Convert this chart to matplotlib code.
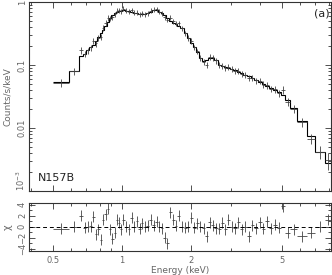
import numpy as np
import matplotlib
matplotlib.use("Agg")
import matplotlib.pyplot as plt
from matplotlib.ticker import FixedLocator, FixedFormatter, NullFormatter, LogLocator

# ---- data ----
edges = [0.50, 0.59, 0.65, 0.68, 0.70, 0.72, 0.74, 0.76, 0.78, 0.80,
         0.82, 0.84, 0.86, 0.88, 0.90, 0.92, 0.94, 0.96, 0.98, 1.00,
         1.03, 1.06, 1.09, 1.12, 1.15, 1.18, 1.21, 1.24, 1.28, 1.32,
         1.36, 1.40, 1.44, 1.48, 1.52, 1.56, 1.60, 1.65, 1.70, 1.75,
         1.80, 1.86, 1.92, 1.98, 2.04, 2.10, 2.17, 2.24, 2.31, 2.38,
         2.46, 2.54, 2.62, 2.70, 2.79, 2.88, 2.97, 3.07, 3.17, 3.28,
         3.40, 3.52, 3.65, 3.79, 3.93, 4.08, 4.24, 4.41, 4.59, 4.78,
         4.98, 5.18, 5.45, 5.85, 6.45, 6.95, 7.70, 8.20]

model = [0.054, 0.080, 0.14, 0.15, 0.17, 0.19, 0.21, 0.24, 0.28, 0.32,
         0.36, 0.42, 0.48, 0.55, 0.62, 0.66, 0.70, 0.72, 0.73, 0.74,
         0.73, 0.71, 0.70, 0.68, 0.66, 0.65, 0.64, 0.64, 0.66, 0.70,
         0.74, 0.74, 0.70, 0.66, 0.62, 0.56, 0.50, 0.47, 0.45, 0.42,
         0.38, 0.32, 0.27, 0.22, 0.19, 0.16, 0.13, 0.115, 0.12, 0.13,
         0.13, 0.12, 0.10, 0.095, 0.093, 0.090, 0.086, 0.082, 0.078, 0.074,
         0.070, 0.066, 0.062, 0.058, 0.054, 0.050, 0.046, 0.043, 0.040, 0.037,
         0.033, 0.028, 0.021, 0.013, 0.0075, 0.0042, 0.0028]

counts = [0.052, 0.080, 0.17, 0.15, 0.17, 0.19, 0.24, 0.22, 0.27, 0.28,
          0.39, 0.47, 0.56, 0.54, 0.57, 0.64, 0.73, 0.74, 0.72, 0.78,
          0.73, 0.70, 0.74, 0.68, 0.68, 0.64, 0.66, 0.64, 0.66, 0.73,
          0.75, 0.77, 0.70, 0.65, 0.57, 0.52, 0.56, 0.50, 0.45, 0.46,
          0.38, 0.32, 0.27, 0.24, 0.19, 0.165, 0.13, 0.113, 0.10, 0.135,
          0.132, 0.118, 0.099, 0.098, 0.091, 0.093, 0.086, 0.081, 0.080, 0.072,
          0.070, 0.062, 0.063, 0.057, 0.056, 0.049, 0.048, 0.042, 0.041, 0.036,
          0.040, 0.026, 0.020, 0.0125, 0.0068, 0.0042, 0.0031]

rel_err = [0.14, 0.12, 0.12, 0.11, 0.11, 0.11, 0.11, 0.11, 0.11, 0.11,
           0.10, 0.10, 0.10, 0.09, 0.09, 0.09, 0.09, 0.09, 0.09, 0.09,
           0.09, 0.09, 0.09, 0.09, 0.09, 0.09, 0.09, 0.09, 0.09, 0.09,
           0.09, 0.09, 0.09, 0.09, 0.09, 0.09, 0.09, 0.09, 0.09, 0.09,
           0.10, 0.10, 0.10, 0.10, 0.10, 0.10, 0.11, 0.11, 0.11, 0.11,
           0.11, 0.11, 0.11, 0.11, 0.11, 0.11, 0.11, 0.11, 0.11, 0.11,
           0.11, 0.11, 0.11, 0.11, 0.12, 0.12, 0.12, 0.12, 0.12, 0.13,
           0.14, 0.14, 0.14, 0.16, 0.18, 0.22, 0.30]

resid = [-0.4, 0.0, 2.0, -0.2, 0.0, 0.1, 1.8, -1.4, -0.5, -2.4,
         1.3, 2.3, 3.3, -0.5, -2.2, -1.1, 1.3, 0.7, -0.5, 1.3,
         0.0, -0.5, 1.6, 0.0, 1.0, -0.4, 0.6, 0.0, 0.2, 1.3,
         0.3, 0.9, 0.0, -0.3, -2.0, -3.0, 2.6, 1.3, 0.2, 2.0,
         0.0, -0.2, 0.0, 1.6, -0.2, 0.6, 0.0, -0.3, -1.7, 0.8,
         0.3, -0.3, -0.4, 0.7, -0.5, 1.3, 0.0, -0.3, 0.8, -0.5,
         0.0, -1.7, 0.3, -0.3, 0.8, -0.4, 1.0, -0.3, 0.4, -0.2,
         3.7, -1.1, -0.5, -1.7, -1.1, 0.0, 1.3]

x_ticks = [0.5, 1, 2, 5]
x_labels = ["0.5", "1", "2", "5"]
y_ticks = [1e-3, 1e-2, 0.1, 1]
y_labels = ["10$^{-3}$", "0.01", "0.1", "1"]
r_ticks = [-4, -2, 0, 2, 4]
r_labels = ["\u22124", "\u22122", "0", "2", "4"]

# ---- style ----
plt.rcParams['font.family'] = ['DejaVu Sans']
plt.rcParams['mathtext.default'] = 'regular'
spine_c = '#333333'
lab_c = '#666666'
pt_c = '#444444'

e = np.array(edges)
lo, hi = e[:-1], e[1:]
cen = np.sqrt(lo * hi)
cnt = np.array(counts)

fig = plt.figure(figsize=(3.32, 2.75), dpi=100)
ax1 = fig.add_axes([0.0873, 0.3055, 0.9096, 0.6873])
ax2 = fig.add_axes([0.0873, 0.0873, 0.9096, 0.1745])

ax1.stairs(model, edges, color='black', lw=0.8, baseline=None)
ax1.errorbar(cen, cnt, xerr=[cen - lo, hi - cen], yerr=cnt * np.array(rel_err),
             fmt='none', ecolor=pt_c, elinewidth=0.6, capsize=0)

ax2.errorbar(cen, resid, xerr=[cen - lo, hi - cen], yerr=1.0,
             fmt='none', ecolor=pt_c, elinewidth=0.6, capsize=0)
ax2.axhline(0, ls=(0, (4, 3)), color='black', lw=0.7)

for ax in (ax1, ax2):
    ax.set_xscale('log')
    ax.set_xlim(0.393, 8.2)
    ax.xaxis.set_major_locator(FixedLocator(x_ticks))
    ax.xaxis.set_minor_locator(LogLocator(base=10, subs=np.arange(1, 10), numticks=20))
    ax.xaxis.set_minor_formatter(NullFormatter())
    ax.tick_params(which='both', direction='in', top=True, right=True,
                   colors=spine_c, labelcolor=lab_c, labelsize=6, width=0.6)
    ax.tick_params(which='major', length=4)
    ax.tick_params(which='minor', length=2)
    for s in ax.spines.values():
        s.set_color(spine_c)
        s.set_linewidth(0.8)

ax1.xaxis.set_major_formatter(NullFormatter())
ax2.xaxis.set_major_formatter(FixedFormatter(x_labels))

ax1.set_yscale('log')
ax1.set_ylim(1e-3, 1.0)
ax1.yaxis.set_major_locator(FixedLocator(y_ticks))
ax1.yaxis.set_major_formatter(FixedFormatter(y_labels))
ax1.yaxis.set_minor_locator(LogLocator(base=10, subs=np.arange(2, 10), numticks=20))
ax1.yaxis.set_minor_formatter(NullFormatter())
ax1.tick_params(axis='y', labelrotation=90, pad=1.5)

ax2.set_ylim(-4.4, 4.3)
ax2.yaxis.set_major_locator(FixedLocator(r_ticks))
ax2.yaxis.set_major_formatter(FixedFormatter(r_labels))
ax2.yaxis.set_minor_locator(FixedLocator([-3, -1, 1, 3]))
ax2.tick_params(axis='y', labelrotation=90, pad=1.5)

fig.canvas.draw()
for t in ax1.get_yticklabels():
    t.set_va('center')
    if t.get_text().startswith('10'):
        t.set_va('bottom')
for t in ax2.get_yticklabels():
    t.set_va('center')

ax1.set_ylabel('Counts/s/keV', fontsize=6.5, color=lab_c)
ax2.set_ylabel('\u03c7', fontsize=7, color=lab_c)
ax2.set_xlabel('Energy (keV)', fontsize=6.5, color=lab_c, labelpad=1)
ax1.yaxis.set_label_coords(-0.055, 0.5)
ax2.yaxis.set_label_coords(-0.055, 0.5)

ax1.text(0.03, 0.04, 'N157B', transform=ax1.transAxes, fontsize=8,
         color='#222222', ha='left', va='bottom')
ax1.text(0.995, 0.94, '(a)', transform=ax1.transAxes, fontsize=8,
         color='#222222', ha='right', va='center')

fig.savefig('out.png', dpi=100)
